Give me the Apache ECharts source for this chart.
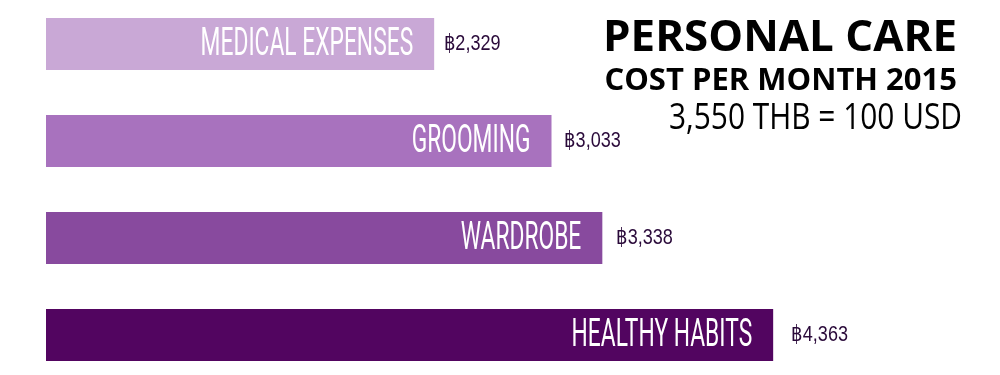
<!DOCTYPE html>
<html>
<head>
<meta charset="utf-8">
<script src="https://cdn.jsdelivr.net/npm/echarts@6/dist/echarts.min.js"></script>
<style>
html,body{margin:0;padding:0;background:#fff;}
#c{width:1000px;height:375px;}
</style>
</head>
<body>
<div id="c"></div>
<script>
var categories = ['MEDICAL EXPENSES', 'GROOMING', 'WARDROBE', 'HEALTHY HABITS'];
var values = [2329, 3033, 3338, 4363];
var valueLabels = ['฿2,329', '฿3,033', '฿3,338', '฿4,363'];
var barColors = ['#C9A8D6', '#A872BE', '#884A9E', '#520560'];
var titleLines = ['PERSONAL CARE', 'COST PER MONTH 2015', '3,550 THB = 100 USD'];

var chart = echarts.init(document.getElementById('c'));

var labelData = values.map(function (v, i) { return [v, i]; });

chart.setOption({
  animation: false,
  backgroundColor: '#ffffff',
  graphic: [
    { type: 'text', x: 957, y: 39, scaleX: 1.02, z: 100,
      style: { text: titleLines[0], fill: '#000', font: 'bold 43px "Open Sans"', textAlign: 'right', textVerticalAlign: 'middle' } },
    { type: 'text', x: 957, y: 81, scaleX: 1.0, z: 100,
      style: { text: titleLines[1], fill: '#000', font: 'bold 31px "Open Sans"', textAlign: 'right', textVerticalAlign: 'middle' } },
    { type: 'text', x: 962, y: 119, scaleX: 0.83, z: 100,
      style: { text: titleLines[2], fill: '#000', font: '36px "Open Sans"', textAlign: 'right', textVerticalAlign: 'middle' } }
  ],
  grid: { left: 46, width: 950, top: -4.5, height: 388, containLabel: false, outerBoundsMode: 'none' },
  xAxis: { type: 'value', min: 0, max: 5700, show: false },
  yAxis: { type: 'category', data: categories, inverse: true, show: false },
  series: [
    {
      type: 'bar',
      barWidth: 52,
      z: 2,
      data: values.map(function (v, i) { return { value: v, itemStyle: { color: barColors[i] } }; }),
      silent: true
    },
    {
      type: 'custom',
      data: labelData,
      silent: true,
      z: 10,
      clip: false,
      renderItem: function (params, api) {
        var v = api.value(0), c = api.value(1);
        var end = api.coord([v, c]);
        var lab = api.coord([v * 1.025, c]);
        return {
          type: 'group',
          children: [
            {
              type: 'text',
              x: end[0] - 21, y: end[1] + 1,
              scaleX: 0.6, scaleY: 1,
              z2: 10,
              style: {
                text: categories[c],
                fill: '#ffffff',
                font: '38px Roboto',
                textAlign: 'right',
                textVerticalAlign: 'middle'
              }
            },
            {
              type: 'text',
              x: lab[0], y: end[1],
              scaleX: 0.82, scaleY: 1,
              style: {
                text: valueLabels[c],
                fill: '#2A0A3A',
                font: '22px "Liberation Sans"',
                textAlign: 'left',
                textVerticalAlign: 'middle'
              }
            }
          ]
        };
      }
    }
  ]
});
</script>
</body>
</html>
